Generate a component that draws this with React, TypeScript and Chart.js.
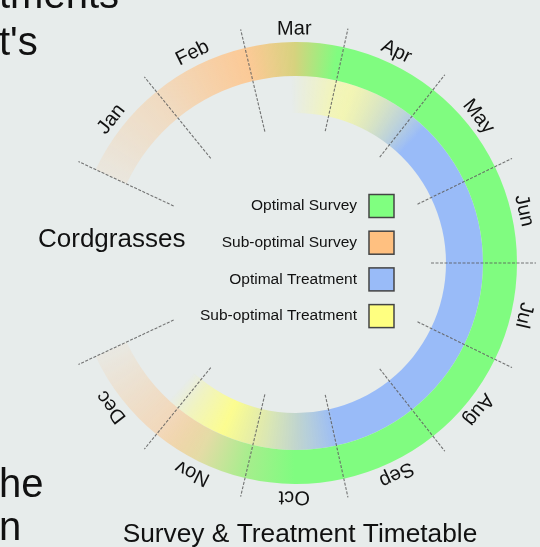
import React, { useEffect, useRef } from 'react';
import { Chart, registerables } from 'chart.js';

Chart.register(...registerables);

// ---- Data ----
const months = ['Jan', 'Feb', 'Mar', 'Apr', 'May', 'Jun', 'Jul', 'Aug', 'Sep', 'Oct', 'Nov', 'Dec'];
const monthSpans = [1, 1, 1, 1, 1, 1, 1, 1, 1, 1, 1, 1];

// Positions along the year (0 = start of Jan, 12 = end of Dec) and the ring colour there
const surveyStopAt = [0, 1, 2, 2.5, 2.95, 9.5, 10, 10.5, 11, 12];
const surveyStopColor = [
  'rgba(255,192,128,0.12)',
  'rgba(255,192,128,0.4)',
  'rgba(255,195,135,0.85)',
  'rgb(214,210,126)',
  'rgb(128,252,128)',
  'rgb(128,252,128)',
  'rgb(165,238,140)',
  'rgb(226,220,165)',
  'rgba(255,192,128,0.45)',
  'rgba(255,192,128,0.08)',
];
const treatStopAt = [2.45, 3.0, 3.2, 4.2, 8.95, 10.4, 10.85, 11.15];
const treatStopColor = [
  'rgba(255,255,128,0)',
  'rgba(255,255,128,0.45)',
  'rgba(252,252,135,0.55)',
  'rgb(153,187,248)',
  'rgb(153,187,248)',
  'rgba(255,255,128,0.85)',
  'rgba(255,255,128,0.4)',
  'rgba(255,255,128,0)',
];

const legendLabels = ['Optimal Survey', 'Sub-optimal Survey', 'Optimal Treatment', 'Sub-optimal Treatment'];
const legendColors = ['#80ff80', '#ffc080', '#99bbf8', '#ffff80'];

const titleText = 'Survey & Treatment Timetable';
const sideLabel = 'Cordgrasses';

// ---- Geometry / style ----
const ROTATION = -65; // degrees from top where Jan starts
const CIRCUMFERENCE = 310;
const MONTH_DEG = CIRCUMFERENCE / months.length;
const OUTER_R = 221;
const INNER_R = 150;
const FONT = '"Liberation Sans", Arial, sans-serif';

function ringFill(stopAt: number[], stopColor: string[]) {
  return (c: any) => {
    const chart = c.chart;
    const ca = chart.chartArea;
    if (!ca) return 'transparent';
    const ctrl: any = chart.getDatasetMeta(c.datasetIndex).controller;
    const cx = (ca.left + ca.right) / 2 + (ctrl.offsetX || 0);
    const cy = (ca.top + ca.bottom) / 2 + (ctrl.offsetY || 0);
    const start = ((ROTATION - 90) * Math.PI) / 180;
    const g = chart.ctx.createConicGradient(start, cx, cy);
    stopAt.forEach((p, i) => g.addColorStop(Math.min(1, Math.max(0, (p * MONTH_DEG) / 360)), stopColor[i]));
    return g;
  };
}

const decorPlugin = {
  id: 'decor',
  afterDatasetsDraw(chart: any) {
    const arc0 = chart.getDatasetMeta(0).data[0];
    if (!arc0) return;
    const cx = arc0.x;
    const cy = arc0.y;
    const ctx = chart.ctx as CanvasRenderingContext2D;
    ctx.save();

    // month boundary lines
    ctx.strokeStyle = 'rgba(85,85,85,0.8)';
    ctx.lineWidth = 1.1;
    ctx.setLineDash([3, 1.5]);
    for (let i = 0; i <= months.length; i++) {
      const a = ((ROTATION + i * MONTH_DEG - 90) * Math.PI) / 180;
      ctx.beginPath();
      ctx.moveTo(cx + Math.cos(a) * 135, cy + Math.sin(a) * 135);
      ctx.lineTo(cx + Math.cos(a) * 240, cy + Math.sin(a) * 240);
      ctx.stroke();
    }
    ctx.setLineDash([]);

    // month labels
    ctx.fillStyle = '#111';
    ctx.font = `20px ${FONT}`;
    ctx.textAlign = 'center';
    ctx.textBaseline = 'middle';
    months.forEach((m, i) => {
      const a = ((ROTATION + (i + 0.5) * MONTH_DEG) * Math.PI) / 180;
      ctx.save();
      ctx.translate(cx, cy);
      ctx.rotate(a);
      ctx.fillText(m, 0, -234);
      ctx.restore();
    });

    // legend
    ctx.font = `15.5px ${FONT}`;
    ctx.textAlign = 'right';
    legendLabels.forEach((l, i) => {
      const y = cy - 57 + i * 36.7;
      ctx.fillStyle = '#111';
      ctx.fillText(l, cx + 61, y);
      ctx.fillStyle = legendColors[i];
      ctx.fillRect(cx + 73, y - 11.5, 25, 23);
      ctx.strokeStyle = '#444';
      ctx.lineWidth = 1.5;
      ctx.strokeRect(cx + 73, y - 11.5, 25, 23);
    });

    // title
    ctx.fillStyle = '#111';
    ctx.textAlign = 'center';
    ctx.textBaseline = 'alphabetic';
    ctx.font = `26.3px ${FONT}`;
    ctx.fillText(titleText, cx + 4, 542);

    // side texts from the slide
    ctx.textAlign = 'left';
    ctx.font = `26px ${FONT}`;
    ctx.fillText(sideLabel, 38, 247);
    ctx.font = `40px ${FONT}`;
    ctx.fillText('tments', -1, 8);
    ctx.fillText("t's", -1, 55);
    ctx.fillText('he', -1, 497);
    ctx.fillText('n', -1, 540);

    ctx.restore();
  },
};

export default function App() {
  const ref = useRef<HTMLCanvasElement>(null);

  useEffect(() => {
    if (!ref.current) return;
    const chart = new Chart(ref.current, {
      type: 'doughnut',
      data: {
        labels: months,
        datasets: [
          {
            label: 'Survey',
            data: monthSpans,
            weight: 34,
            backgroundColor: ringFill(surveyStopAt, surveyStopColor),
            borderWidth: 0,
            clip: false,
          } as any,
          {
            label: 'Treatment',
            data: monthSpans,
            weight: 37,
            backgroundColor: ringFill(treatStopAt, treatStopColor),
            borderWidth: 0,
            clip: false,
          } as any,
        ],
      },
      options: {
        responsive: false,
        maintainAspectRatio: false,
        devicePixelRatio: 1,
        animation: false,
        events: [],
        rotation: ROTATION,
        circumference: CIRCUMFERENCE,
        radius: OUTER_R,
        cutout: `${(INNER_R / OUTER_R) * 100}%`,
        layout: { padding: { left: 86, right: 13.3, top: 0, bottom: 21 } },
        plugins: {
          legend: { display: false },
          tooltip: { enabled: false },
          title: { display: false },
        },
      } as any,
      plugins: [decorPlugin],
    });
    return () => chart.destroy();
  }, []);

  return (
    <div
      style={{
        position: 'fixed',
        left: 0,
        top: 0,
        width: 540,
        height: 547,
        background: '#e7eceb',
        overflow: 'hidden',
      }}
    >
      <canvas ref={ref} width={540} height={547} style={{ display: 'block' }} />
    </div>
  );
}
